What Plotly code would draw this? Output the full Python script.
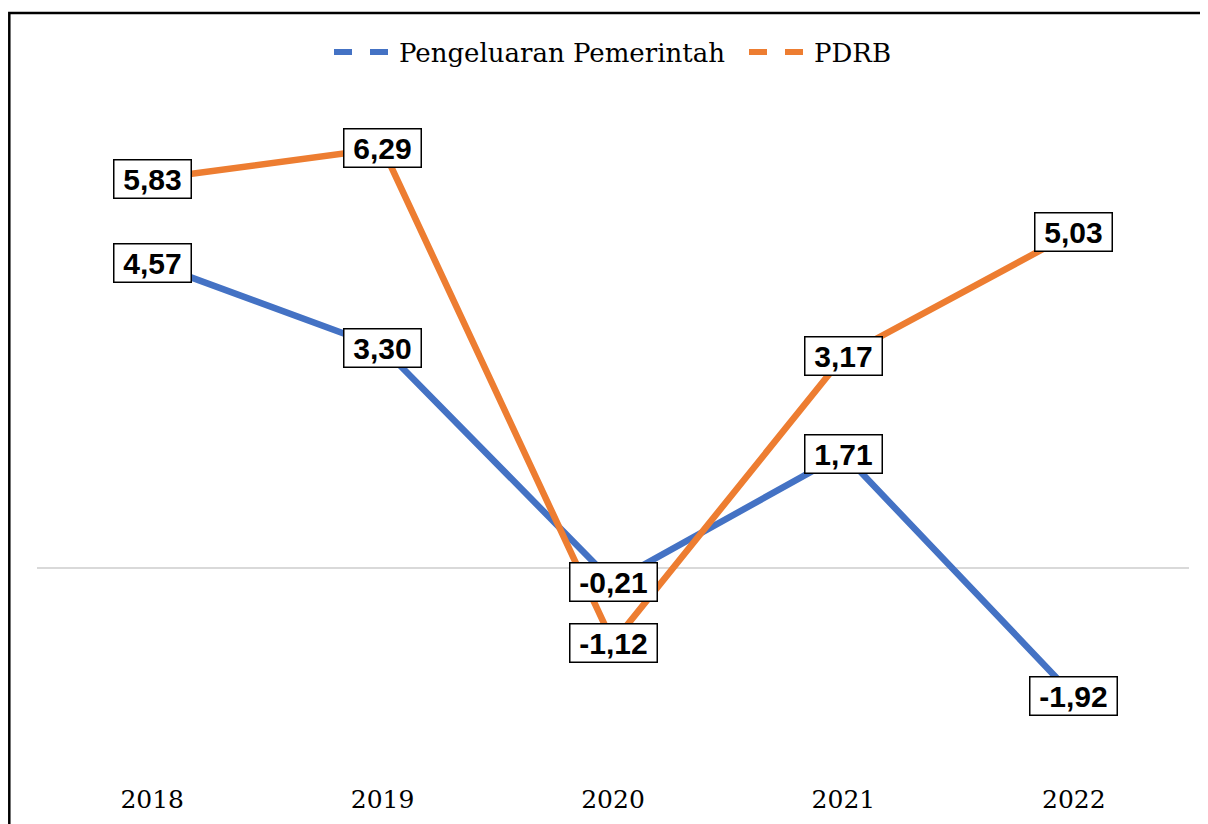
import plotly.graph_objects as go

years = ["2018", "2019", "2020", "2021", "2022"]
pengeluaran = [4.57, 3.30, -0.21, 1.71, -1.92]
pdrb = [5.83, 6.29, -1.12, 3.17, 5.03]
series_names = ["Pengeluaran Pemerintah", "PDRB"]
colors = ["#4472C4", "#ED7D31"]

def fmt(v):
    return f"{v:.2f}".replace(".", ",")

fig = go.Figure()
for name, vals, c in zip(series_names, [pengeluaran, pdrb], colors):
    fig.add_trace(go.Scatter(x=years, y=vals, mode="lines", name=name,
                             line=dict(color=c, width=6.5), showlegend=False))
for name, c in zip(series_names, colors):
    fig.add_trace(go.Scatter(x=[None], y=[None], mode="lines", name=name,
                             line=dict(color=c, width=6, dash="dash")))

for vals in [pengeluaran, pdrb]:
    for i, v in enumerate(vals):
        t = fmt(v)
        fig.add_annotation(x=i, y=v, xref="x", yref="y", text="<b>" + t + "</b>", showarrow=False,
                           font=dict(family="Liberation Sans", size=30, color="black"),
                           bgcolor="white", bordercolor="black", borderwidth=1.5,
                           borderpad=0, width=(76 if len(t) == 4 else 86), height=37)

fig.add_shape(type="rect", xref="paper", yref="paper",
              x0=(1.3 - 29) / 1152, x1=1.1, y0=-0.3, y1=(760 - 5) / 667,
              line=dict(color="black", width=2.5), fillcolor="rgba(0,0,0,0)", layer="above")

fig.update_layout(
    width=1208, height=824,
    margin=dict(l=29, r=27, t=93, b=64),
    paper_bgcolor="white", plot_bgcolor="white",
    legend=dict(orientation="h", x=(321 - 29) / 1152, xanchor="left", y=(760 - 44) / 667, yanchor="middle",
                font=dict(family="DejaVu Serif", size=26, color="black"),
                itemwidth=60, entrywidth=340, bgcolor="rgba(0,0,0,0)"),
    xaxis=dict(type="category", range=[-0.5, 4.5], showgrid=False, showline=False,
               zeroline=False, ticks="", ticklabelstandoff=14,
               tickfont=dict(family="DejaVu Serif", size=25, color="black")),
    yaxis=dict(range=[-3, 7], showgrid=False, showticklabels=False, showline=False,
               zeroline=True, zerolinecolor="#D9D9D9", zerolinewidth=1.5),
)
fig.write_html("out.html")
